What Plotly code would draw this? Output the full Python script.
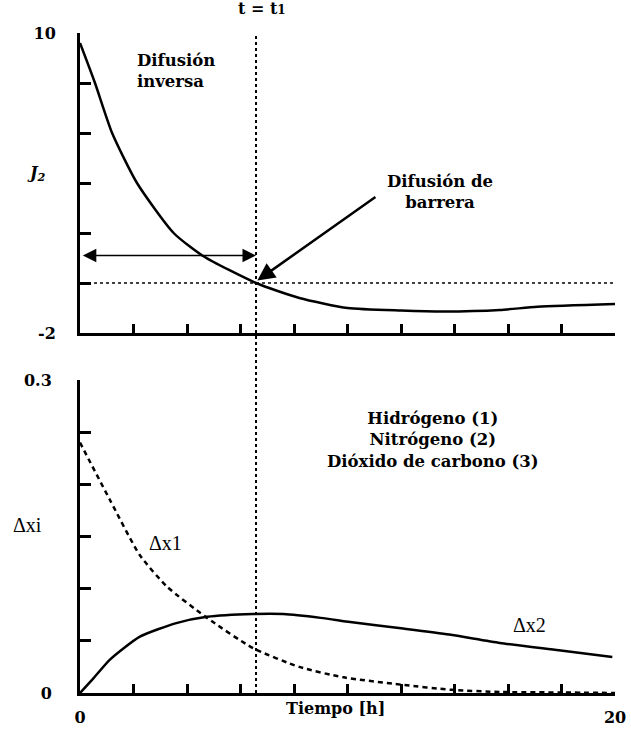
import plotly.graph_objects as go

# ---- data ----
t_J = [0, 0.56, 1.2, 2.13, 3.5, 4.6, 6.58, 8.2, 10, 12, 13.6, 15.7, 17.1, 20]
J2 = [9.6, 8.0, 6.0, 4.0, 2.0, 1.08, 0.0, -0.6, -1.0, -1.1, -1.14, -1.08, -0.95, -0.84]

t_dx1 = [0, 1.12, 2.24, 3.25, 4.75, 6.47, 8.2, 9.85, 12, 13.9, 15.7, 18, 20]
dx1 = [0.24, 0.185, 0.132, 0.102, 0.072, 0.043, 0.025, 0.015, 0.008, 0.003, 0.001, 0.0005, 0.0]

t_dx2 = [0, 0.5, 1.12, 2.24, 3.6, 4.75, 6.47, 7.6, 9, 10.1, 12, 13.8, 15.7, 17.9, 19.9]
dx2 = [0, 0.014, 0.032, 0.054, 0.067, 0.073, 0.0757, 0.0757, 0.072, 0.068, 0.062, 0.056, 0.048, 0.041, 0.0345]

t1 = 6.58
J_arrow = 1.1
x_ticks = list(range(0, 21, 2))
x_ticktext = ["0"] + [""] * 9 + ["20"]
yJ_ticks = [-2, 0, 2, 4, 6, 8, 10]
yJ_ticktext = ["-2", "", "", "", "", "", "10"]
yX_ticks = [0, 0.05, 0.1, 0.15, 0.2, 0.25, 0.3]
yX_ticktext = ["0", "", "", "", "", "", "0.3"]
gases = ["Hidrógeno (1)", "Nitrógeno (2)", "Dióxido de carbono (3)"]

BFONT = "DejaVu Serif"
RFONT = "Liberation Serif"

bold = dict(family=BFONT, size=16, color="black", weight="bold")
reg = dict(family=RFONT, size=20, color="black")

fig = go.Figure()
fig.add_trace(go.Scatter(x=t_J, y=J2, mode="lines", xaxis="x", yaxis="y",
                         line=dict(color="black", width=2.5, shape="spline", smoothing=0.6),
                         showlegend=False, cliponaxis=False))
fig.add_trace(go.Scatter(x=t_dx1, y=dx1, mode="lines", xaxis="x2", yaxis="y2",
                         line=dict(color="black", width=2.5, dash="5px,4px", shape="spline", smoothing=0.6),
                         showlegend=False))
fig.add_trace(go.Scatter(x=t_dx2, y=dx2, mode="lines", xaxis="x2", yaxis="y2",
                         line=dict(color="black", width=2.5, shape="spline", smoothing=0.6),
                         showlegend=False))

axis_common = dict(showline=True, linecolor="black", linewidth=3, showgrid=False, zeroline=False,
                   ticks="inside", tickcolor="black", tickwidth=3, tickfont=bold, automargin=False)

fig.update_layout(
    width=631, height=736,
    margin=dict(l=80, r=16, t=33, b=43),
    paper_bgcolor="white", plot_bgcolor="white",
    font=dict(family=RFONT),
    xaxis=dict(domain=[0, 1], anchor="y", range=[0, 20], tickvals=x_ticks, showticklabels=False,
               ticklen=9, **axis_common),
    yaxis=dict(domain=[1 - 300 / 660, 1], anchor="x", range=[-2, 10], tickvals=yJ_ticks,
               ticktext=yJ_ticktext, ticklen=11, ticklabelstandoff=18, **axis_common),
    xaxis2=dict(domain=[0, 1], anchor="y2", range=[0, 20], tickvals=x_ticks, ticktext=x_ticktext,
                ticklen=9, ticklabelstandoff=8, **axis_common),
    yaxis2=dict(domain=[0, 313 / 660], anchor="x2", range=[0, 0.3], tickvals=yX_ticks,
                ticktext=yX_ticktext, ticklen=11, ticklabelstandoff=22, **axis_common),
)

# vertical dotted line t = t1 across both panels
fig.add_shape(type="line", xref="x", yref="paper", x0=t1, x1=t1, y0=0, y1=1,
              line=dict(color="black", width=2, dash="dot"))
# horizontal dotted line J = 0
fig.add_shape(type="line", xref="x", yref="y", x0=0.3, x1=20, y0=0, y1=0,
              line=dict(color="black", width=1.5, dash="dot"))

# double-headed arrow
fig.add_annotation(xref="x", yref="y", axref="x", ayref="y", x=t1, y=J_arrow, ax=0.05, ay=J_arrow,
                   text="", showarrow=True, arrowhead=2, arrowside="end+start", arrowsize=1.8,
                   arrowwidth=1.5, arrowcolor="black")
# barrier arrow
fig.add_annotation(xref="x", yref="y", axref="x", ayref="y", x=t1 + 0.05, y=0.1, ax=11.1, ay=3.48,
                   text="", showarrow=True, arrowhead=2, arrowsize=1.4, arrowwidth=2.5,
                   arrowcolor="black", standoff=0)


def px(xp, yp):
    return dict(xref="paper", yref="paper", x=(xp - 80) / 535, y=(703 - yp) / 660,
                xanchor="center", yanchor="middle", showarrow=False)


fig.add_annotation(text="t = t<span style='font-size:12px'>1</span>", font=bold, **px(262, 19))
fig.add_annotation(xref="x", yref="y", x=2.06, y=8.5, text="Difusión<br>inversa", showarrow=False,
                   xanchor="left", align="left", font=dict(bold, size=16.5))
fig.add_annotation(xref="x", yref="y", x=13.46, y=3.64, text="Difusión de<br>barrera", showarrow=False,
                   align="center", font=dict(bold, size=16.5))
fig.add_annotation(text="J<sub>2</sub>", font=dict(bold, style="italic"), **px(36, 183))
fig.add_annotation(text="Δxi", font=reg, **px(27, 535))
fig.add_annotation(xref="x2", yref="y2", x=3.18, y=0.144, text="Δx1", showarrow=False, font=reg)
fig.add_annotation(xref="x2", yref="y2", x=16.8, y=0.065, text="Δx2", showarrow=False, font=reg)
fig.add_annotation(xref="x2", yref="y2", x=13.2, y=0.2425, text="<br>".join(gases), showarrow=False,
                   align="center", font=dict(bold, size=16.5))
fig.add_annotation(text="Tiempo [h]", font=bold, **px(335, 718))

fig.write_html("out.html")
